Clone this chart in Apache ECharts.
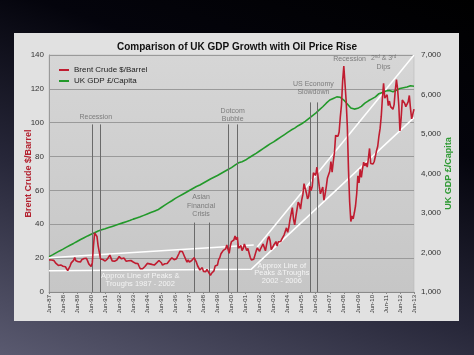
<!DOCTYPE html>
<html>
<head>
<meta charset="utf-8">
<script src="https://cdn.jsdelivr.net/npm/echarts@6/dist/echarts.min.js"></script>
<style>
  html, body { margin: 0; padding: 0; width: 474px; height: 355px; overflow: hidden; }
  body { background: linear-gradient(200deg, #000000 0%, #04040c 30%, #262638 62%, #5a5a70 100%); position: relative; }
  #panel { position: absolute; left: 14px; top: 33px; width: 445px; height: 288px; background: #e1e1e1; }
  #chart { position: absolute; left: 0; top: 0; width: 474px; height: 355px; }
</style>
</head>
<body>
<div id="panel"></div>
<div id="chart"></div>
<script>
// ---------- DATA ----------
const titleText = 'Comparison of UK GDP Growth with Oil Price Rise';
const seriesNames = ['Brent Crude $/Barrel', 'UK GDP £/Capita'];
const firstMonth = 'Jun-87';
const lastMonth = 'Jun-13';

// Brent crude, monthly $/barrel, Jun-87 .. Jun-13
const brent1987 = [19.0, 19.6, 18.9, 18.3, 18.7, 18.2, 16.9];
const brent1988_1992 = [
  16.7, 15.7, 14.7, 16.0, 16.1, 15.2, 14.6, 14.9, 13.8, 12.6, 13.0, 15.3,
  17.2, 16.9, 18.7, 20.3, 18.5, 17.6, 17.9, 16.9, 17.8, 19.1, 18.8, 19.8,
  20.5, 19.9, 18.4, 16.6, 16.4, 15.1, 17.2, 27.2, 34.9, 36.0, 32.8, 27.3,
  23.6, 19.5, 19.1, 19.2, 19.2, 18.3, 19.4, 19.6, 20.2, 21.8, 20.7, 18.4,
  18.2, 18.2, 17.6, 18.9, 19.8, 21.0, 20.1, 19.6, 20.2, 20.1, 19.0, 18.2
];
const brent1993_1997 = [
  17.4, 18.5, 18.8, 18.6, 18.5, 17.7, 16.8, 16.9, 16.2, 16.8, 15.2, 13.8,
  14.4, 13.7, 13.7, 15.1, 16.2, 16.9, 17.6, 16.6, 15.9, 16.3, 17.1, 15.9,
  16.6, 17.2, 17.0, 18.6, 18.4, 17.3, 15.9, 16.3, 16.7, 16.1, 16.8, 17.9,
  18.6, 18.9, 20.2, 20.9, 19.1, 18.7, 19.7, 20.5, 22.6, 24.1, 23.0, 23.9,
  23.5, 20.7, 19.1, 17.6, 19.0, 17.6, 18.5, 18.6, 18.6, 20.3, 19.2, 17.6
];
const brent1998_2002 = [
  15.5, 14.5, 13.0, 13.4, 14.4, 12.2, 12.1, 12.0, 13.4, 12.8, 11.0, 9.8,
  11.1, 10.3, 12.5, 15.3, 15.3, 15.9, 19.1, 20.3, 22.6, 22.1, 24.6, 25.5,
  25.5, 27.8, 27.5, 22.8, 27.3, 29.8, 28.7, 30.7, 33.1, 30.9, 32.5, 25.9,
  25.0, 27.5, 24.5, 25.7, 28.4, 27.7, 24.5, 25.7, 25.7, 20.5, 18.9, 18.5,
  19.4, 20.3, 24.0, 26.0, 25.7, 24.1, 25.7, 26.6, 28.4, 27.5, 24.3, 28.0
];
const brent2003_2007 = [
  31.2, 32.8, 30.3, 25.0, 25.8, 27.6, 28.4, 29.8, 27.1, 29.6, 28.8, 29.8,
  31.2, 30.9, 33.8, 33.4, 37.9, 35.2, 38.2, 42.7, 43.2, 49.8, 43.1, 39.6,
  44.5, 45.5, 53.1, 51.9, 49.0, 54.3, 57.5, 64.0, 62.9, 58.5, 55.0, 56.5,
  62.5, 60.0, 62.3, 70.4, 70.0, 68.9, 73.7, 73.2, 62.5, 58.0, 58.8, 62.0,
  54.3, 57.6, 62.1, 67.4, 67.5, 71.3, 77.0, 70.8, 77.1, 82.3, 92.5, 91.5
];
const brent2008_2013 = [
  92.0, 94.5, 103.3, 110.4, 124.6, 133.5, 133.9, 113.0, 98.1, 72.3, 53.2, 41.6,
  44.9, 43.2, 46.8, 50.8, 57.9, 68.6, 64.4, 72.5, 67.7, 72.8, 76.7, 74.5,
  76.2, 73.8, 78.8, 84.8, 75.9, 74.8, 75.6, 77.1, 78.2, 83.5, 86.1, 92.0,
  96.5, 103.7, 114.6, 123.3, 114.5, 113.9, 116.5, 110.1, 112.8, 109.5, 110.5, 107.9,
  110.7, 119.3, 125.5, 119.8, 110.3, 95.2, 102.6, 113.4, 113.0, 111.5, 109.5, 109.2,
  112.3, 116.1, 108.5, 102.3, 102.6, 108.0
];

// UK GDP per capita, quarterly £, Jun-87 .. Jun-13
const gdpQuarterly = [
  1895, 1940, 1990, 2040, 2085, 2135, 2185, 2230, 2280, 2330, 2375, 2420,
  2460, 2500, 2545, 2575, 2600, 2630, 2660, 2690, 2720, 2750, 2780, 2810,
  2845, 2875, 2905, 2940, 2975, 3010, 3045, 3080, 3140, 3200, 3255, 3310,
  3370, 3420, 3470, 3520, 3570, 3620, 3670, 3710, 3760, 3810, 3860, 3905,
  3950, 4000, 4050, 4100, 4150, 4210, 4270, 4300, 4340, 4400, 4455, 4510,
  4570, 4630, 4690, 4750, 4800, 4860, 4920, 4980, 5040, 5100, 5150, 5210,
  5260, 5320, 5390, 5460, 5530, 5610, 5690, 5780, 5860, 5900, 5940, 5930,
  5860, 5760, 5660, 5630, 5650, 5700, 5780, 5840, 5890, 5940, 6020, 6050,
  6090, 6100, 6070, 6110, 6150, 6170, 6190, 6220, 6210
];

// Event marker lines (start / end month) and label texts
const eventLabels = ['Recession', 'Asian\nFinancial\nCrisis', 'Dotcom\nBubble', 'US Economy\nSlowdown'];
const eventStart = ['Jul-90', 'Oct-97', 'Mar-00', 'Jan-06'];
const eventEnd   = ['Feb-91', 'Nov-98', 'Nov-00', 'Jul-06'];
const eventTop   = [99, 41, 99, 112];

// Approximate peak / trough lines ($/barrel)
const peaks1987_2002   = [['Jun-87', 20.3], ['Jan-02', 27.8]];
const troughs1987_2013 = [['Jun-87', 12.6], ['Nov-01', 13.5], ['Jun-13', 103]];
const peaks2002_2013   = [['Apr-02', 26.6], ['Jun-13', 140]];

// Axis ticks
const leftTicks = { min: 0, max: 140, step: 20 };
const rightTicks = { min: 1000, max: 7000, step: 1000 };

// ---------- HELPERS ----------
const MON = ['Jan','Feb','Mar','Apr','May','Jun','Jul','Aug','Sep','Oct','Nov','Dec'];
function mi(s) {
  const p = s.split('-');
  const y = +p[1];
  const yy = y < 50 ? 2000 + y : 1900 + y;
  return (yy - 1987) * 12 + MON.indexOf(p[0]) - 5;
}
const brent = [].concat(brent1987, brent1988_1992, brent1993_1997, brent1998_2002, brent2003_2007, brent2008_2013);
const brentData = brent.map((v, i) => [i, v]);
const gdpData = gdpQuarterly.map((v, i) => [i * 3, v]);
const toPts = arr => arr.map(p => [mi(p[0]), p[1]]);
function comma(v) { return String(v).replace(/\B(?=(\d{3})+(?!\d))/g, ','); }

const eventMarkLines = [];
eventStart.forEach((s, k) => {
  [s, eventEnd[k]].forEach(m => {
    eventMarkLines.push([{ coord: [mi(m), 0] }, { coord: [mi(m), eventTop[k]] }]);
  });
});

const annoFont = 'Liberation Sans, Arial, sans-serif';
const annotations = [
  { at: ['Oct-90', 103.4], text: eventLabels[0] },
  { at: ['Apr-98', 50.8], text: eventLabels[1] },
  { at: ['Jul-00', 104.5], text: eventLabels[2] },
  { at: ['Apr-06', 120.5], text: eventLabels[3] },
  { at: ['Nov-08', 137.6], text: 'Recession' },
  { at: ['Apr-11', 135.6], text: '2{s|nd} & 3{s|rd}\nDips' }
];
const whiteNotes = [
  { at: ['Dec-93', 7.3], text: 'Approx Line of Peaks &\nTroughs 1987 - 2002' },
  { at: ['Jan-04', 11.2], text: 'Approx Line of\nPeaks &Troughs\n2002 - 2006' }
];

function noteSeries(list, color, fs, lh) {
  return {
    type: 'scatter', symbolSize: 0, silent: true, z: 6,
    data: list.map(a => ({ value: [mi(a.at[0]), a.at[1]] })),
    label: {
      show: true, position: 'inside', color: color, fontSize: fs, lineHeight: lh,
      fontFamily: annoFont, align: 'center', verticalAlign: 'middle',
      formatter: p => list[p.dataIndex].text,
      rich: { s: { fontSize: 4.5, color: color, verticalAlign: 'top', lineHeight: lh, fontFamily: annoFont } }
    }
  };
}

function whiteLine(pts) {
  return {
    type: 'line', data: toPts(pts), symbol: 'none', silent: true, z: 3,
    lineStyle: { color: '#ffffff', width: 1.5 }, yAxisIndex: 0
  };
}

const chart = echarts.init(document.getElementById('chart'), null, { renderer: 'canvas' });
chart.setOption({
  backgroundColor: 'transparent',
  animation: false,
  textStyle: { fontFamily: annoFont },
  title: {
    text: titleText, left: 'center', top: 37,
    textStyle: { fontSize: 10, fontWeight: 'bold', color: '#111', fontFamily: annoFont }
  },
  legend: {
    data: seriesNames, orient: 'vertical', left: 54, top: 61,
    itemWidth: 10, itemHeight: 2, itemGap: 3, icon: 'rect',
    textStyle: { fontSize: 8, color: '#222', fontFamily: annoFont }
  },
  grid: {
    left: 49, right: 60, top: 55, bottom: 63, show: true,
    borderColor: '#b0b0b0', borderWidth: 0.5,
    backgroundColor: new echarts.graphic.LinearGradient(0, 0, 0, 1, [
      { offset: 0, color: '#d6d6d6' }, { offset: 1, color: '#c6c6c6' }
    ])
  },
  xAxis: {
    type: 'value', min: 0, max: mi(lastMonth) - mi(firstMonth), interval: 12,
    splitLine: { show: false },
    axisLine: { show: true, lineStyle: { color: '#8a8a8a' } },
    axisTick: { show: true, length: 2, lineStyle: { color: '#8a8a8a' } },
    axisLabel: {
      rotate: 90, fontSize: 6, color: '#333', margin: 3,
      formatter: v => 'Jun-' + String(Math.round(87 + v / 12) % 100).padStart(2, '0')
    }
  },
  yAxis: [
    {
      type: 'value', min: leftTicks.min, max: leftTicks.max, interval: leftTicks.step,
      name: seriesNames[0], nameLocation: 'middle', nameGap: 16, nameRotate: 90,
      nameMoveOverlap: false,
      nameTextStyle: { color: '#b3212f', fontWeight: 'bold', fontSize: 9, fontFamily: annoFont },
      axisLine: { show: true, lineStyle: { color: '#9a9a9a' } },
      axisTick: { show: false },
      axisLabel: { fontSize: 8, color: '#333', margin: 5 },
      splitLine: { show: true, lineStyle: { color: '#9a9a9a', width: 1 } }
    },
    {
      type: 'value', position: 'right', min: rightTicks.min, max: rightTicks.max, interval: rightTicks.step,
      name: seriesNames[1], nameLocation: 'middle', nameGap: 30, nameRotate: 90,
      nameMoveOverlap: false,
      nameTextStyle: { color: '#2f9a34', fontWeight: 'bold', fontSize: 9, fontFamily: annoFont },
      axisLine: { show: false }, axisTick: { show: false },
      axisLabel: { fontSize: 8, color: '#333', margin: 7, formatter: v => comma(v) },
      splitLine: { show: false }
    }
  ],
  series: [
    {
      name: 'events', type: 'line', data: [], silent: true, z: 2,
      markLine: {
        silent: true, symbol: ['none', 'none'], animation: false,
        label: { show: false },
        lineStyle: { color: '#6a6a6a', width: 1, type: 'solid' },
        data: eventMarkLines
      }
    },
    whiteLine(peaks1987_2002),
    whiteLine(troughs1987_2013),
    whiteLine(peaks2002_2013),
    {
      name: seriesNames[1], type: 'line', yAxisIndex: 1, data: gdpData, symbol: 'none', z: 4,
      lineStyle: { color: '#22992a', width: 1.6 }, itemStyle: { color: '#22992a' }
    },
    {
      name: seriesNames[0], type: 'line', yAxisIndex: 0, data: brentData, symbol: 'none', z: 5,
      lineStyle: { color: '#c01c30', width: 1.6 }, itemStyle: { color: '#c01c30' }
    },
    noteSeries(annotations, '#666666', 7, 8.5),
    noteSeries(whiteNotes, '#ffffff', 7.5, 7.6)
  ]
});
</script>
</body>
</html>
